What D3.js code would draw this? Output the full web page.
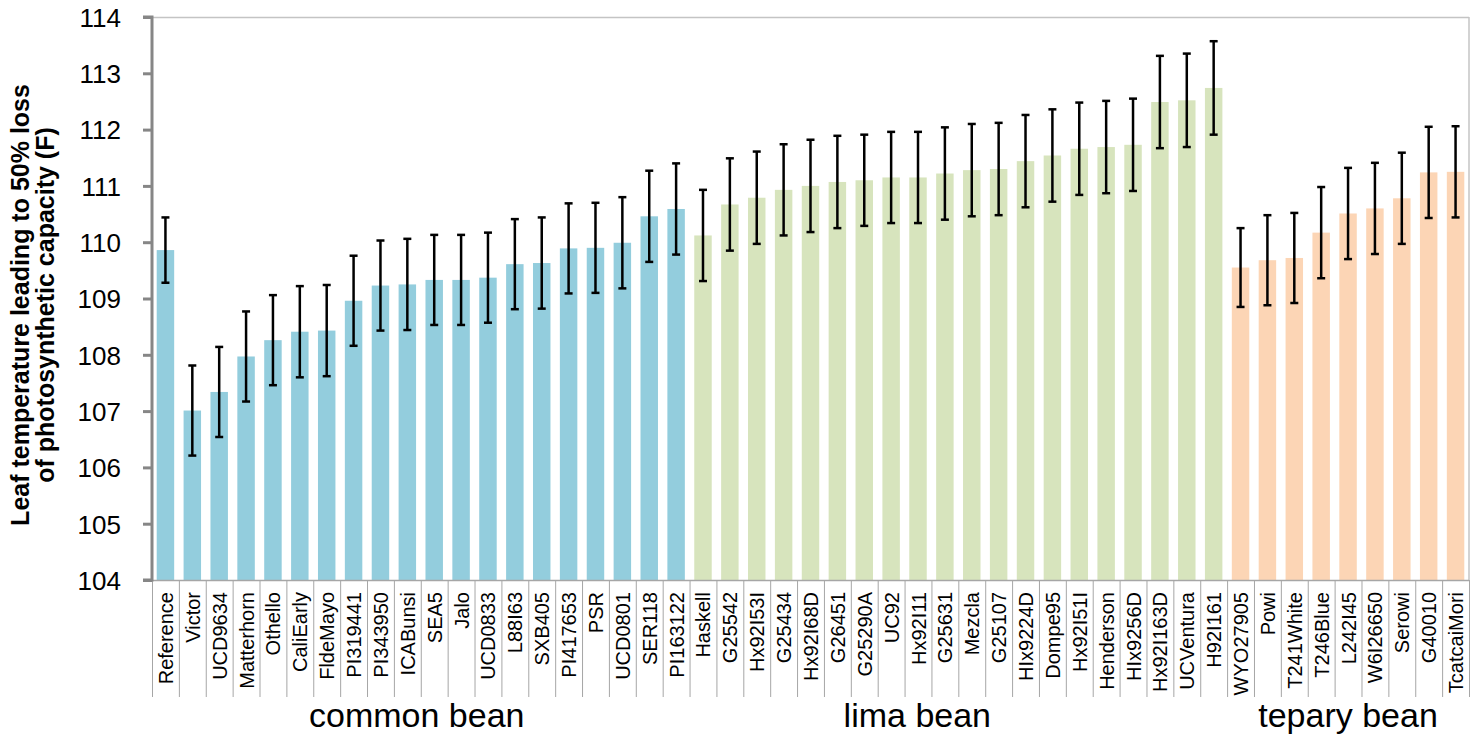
<!DOCTYPE html>
<html>
<head>
<meta charset="utf-8">
<script src="https://cdn.jsdelivr.net/npm/d3@7"></script>
<style>
  body { margin: 0; background: #fff; }
  svg { display: block; font-family: "Liberation Sans", Arial, sans-serif; }
</style>
</head>
<body>
<svg></svg>
<script>
const width = 1473
const height = 742

// cultivars, in plot order
const commonBean = ["Reference", "Victor", "UCD9634", "Matterhorn", "Othello", "CaliEarly", "FldeMayo",
  "PI319441", "PI343950", "ICABunsi", "SEA5", "Jalo", "UCD0833", "L88I63", "SXB405", "PI417653",
  "PSR", "UCD0801", "SER118", "PI163122"]
const limaBean = ["Haskell", "G25542", "Hx92I53I", "G25434", "Hx92I68D", "G26451", "G25290A", "UC92",
  "Hx92I11", "G25631", "Mezcla", "G25107", "HIx9224D", "Dompe95", "Hx92I51I", "Henderson",
  "HIx9256D", "Hx92I163D", "UCVentura", "H92I161"]
const teparyBean = ["WYO27905", "Powi", "T241White", "T246Blue", "L242I45", "W6I26650", "Serowi",
  "G40010", "TcatcaiMori"]

// mean leaf temperature (F) and error (+/-)
const commonValues = [109.86, 107.01, 107.34, 107.97, 108.26, 108.41, 108.43, 108.96, 109.23, 109.25,
  109.33, 109.33, 109.37, 109.61, 109.63, 109.89, 109.90, 109.99, 110.46, 110.59]
const commonErrors = [0.58, 0.8, 0.8, 0.8, 0.8, 0.81, 0.81, 0.8, 0.8, 0.81,
  0.8, 0.8, 0.8, 0.8, 0.81, 0.8, 0.8, 0.81, 0.81, 0.81]
const limaValues = [110.12, 110.67, 110.79, 110.93, 111.0, 111.07, 111.10, 111.15, 111.15, 111.22,
  111.28, 111.30, 111.44, 111.54, 111.66, 111.69, 111.73, 112.49, 112.52, 112.74]
const limaErrors = [0.81, 0.82, 0.82, 0.81, 0.82, 0.82, 0.81, 0.81, 0.81, 0.82,
  0.82, 0.82, 0.82, 0.82, 0.82, 0.82, 0.82, 0.82, 0.83, 0.83]
const teparyValues = [109.55, 109.68, 109.72, 110.17, 110.51, 110.60, 110.78, 111.24, 111.25]
const teparyErrors = [0.7, 0.8, 0.8, 0.81, 0.81, 0.81, 0.81, 0.81, 0.81]

const groupNames = ["common bean", "lima bean", "tepary bean"]
const groupColors = ["#93cddd", "#d7e4bd", "#fcd5b5"]
const yTicks = [104, 105, 106, 107, 108, 109, 110, 111, 112, 113, 114]

const groups = [
  { names: commonBean, values: commonValues, errors: commonErrors },
  { names: limaBean, values: limaValues, errors: limaErrors },
  { names: teparyBean, values: teparyValues, errors: teparyErrors }
]

var rows = []
groups.forEach(function (g, gi) {
  g.names.forEach(function (n, i) {
    rows.push({ name: n, value: g.values[i], err: g.errors[i], group: gi })
  })
})

const margin = { top: 17, right: 4, bottom: 162, left: 152 }
const plotW = width - margin.left - margin.right
const plotH = height - margin.top - margin.bottom

const svg = d3.select("svg")
  .attr("width", width)
  .attr("height", height)

const g = svg.append("g")
  .attr("transform", "translate(" + margin.left + "," + margin.top + ")")

const x = d3.scaleBand()
  .domain(rows.map(d => d.name))
  .range([0, plotW])
  .paddingInner(0.35)
  .paddingOuter(0.175)

const y = d3.scaleLinear()
  .domain([104, 114])
  .range([plotH, 0])

// frame on top and right
g.append("line")
  .attr("x1", 0).attr("x2", plotW).attr("y1", 0.5).attr("y2", 0.5)
  .attr("stroke", "#c4c4c4").attr("stroke-width", 1.5)
g.append("line")
  .attr("x1", plotW).attr("x2", plotW).attr("y1", 0).attr("y2", plotH)
  .attr("stroke", "#c4c4c4").attr("stroke-width", 1.5)

// bars
g.append("g")
  .selectAll("rect")
  .data(rows)
  .enter()
  .append("rect")
  .attr("x", d => x(d.name))
  .attr("width", x.bandwidth())
  .attr("y", d => y(d.value))
  .attr("height", d => plotH - y(d.value))
  .attr("fill", d => groupColors[d.group])

// error bars
const eb = g.append("g")
  .attr("stroke", "#000")
  .attr("stroke-width", 2.5)
  .selectAll("g")
  .data(rows)
  .enter()
  .append("g")
  .attr("transform", d => "translate(" + (x(d.name) + x.bandwidth() / 2) + ",0)")

eb.append("line")
  .attr("y1", d => y(d.value + d.err))
  .attr("y2", d => y(d.value - d.err))
eb.append("line")
  .attr("x1", -4).attr("x2", 4)
  .attr("y1", d => y(d.value + d.err))
  .attr("y2", d => y(d.value + d.err))
eb.append("line")
  .attr("x1", -4).attr("x2", 4)
  .attr("y1", d => y(d.value - d.err))
  .attr("y2", d => y(d.value - d.err))

// bottom axis line and category separators
g.append("line")
  .attr("x1", 0).attr("x2", plotW).attr("y1", plotH + 0.5).attr("y2", plotH + 0.5)
  .attr("stroke", "#a6a6a6").attr("stroke-width", 1.5)

const step = x.step()
g.append("g")
  .selectAll("line")
  .data(d3.range(rows.length + 1))
  .enter()
  .append("line")
  .attr("x1", d => d * step + 0.5)
  .attr("x2", d => d * step + 0.5)
  .attr("y1", plotH)
  .attr("y2", plotH + 117)
  .attr("stroke", "#a6a6a6")
  .attr("stroke-width", 1)

// category labels
g.append("g")
  .selectAll("text")
  .data(rows)
  .enter()
  .append("text")
  .attr("transform", d => "translate(" + (x(d.name) + x.bandwidth() / 2 + 7.5) + "," + (plotH + 12) + ") rotate(-90)")
  .attr("text-anchor", "end")
  .style("font-size", "20px")
  .style("fill", "#000")
  .text(d => d.name)

// group labels
var starts = [0, commonBean.length, commonBean.length + limaBean.length]
var shifts = [-4, -41, 0]
g.append("g")
  .selectAll("text")
  .data(groupNames)
  .enter()
  .append("text")
  .attr("x", (d, i) => {
    var n = groups[i].names.length
    return (starts[i] + n / 2) * step + shifts[i]
  })
  .attr("y", plotH + 147)
  .attr("text-anchor", "middle")
  .style("font-size", "34px")
  .style("fill", "#000")
  .text(d => d)

// y axis
const yAxis = g.append("g")
  .call(d3.axisLeft(y).tickValues(yTicks).tickSize(9).tickPadding(22).tickFormat(d3.format("d")))

yAxis.select(".domain")
  .attr("stroke", "#868686")
  .attr("stroke-width", 3)
  .attr("d", "M-9," + plotH + "H0V0H-9")
yAxis.selectAll(".tick line")
  .attr("stroke", "#868686")
  .attr("stroke-width", 3)
yAxis.selectAll(".tick text")
  .style("font-size", "26px")
  .style("font-family", "'Liberation Sans', Arial, sans-serif")
  .attr("dy", "0.36em")
  .style("fill", "#000")

// y axis title
const yTitle = svg.append("text")
  .attr("transform", "translate(0," + 305 + ") rotate(-90)")
  .attr("text-anchor", "middle")
  .style("font-size", "25px")
  .style("font-weight", "bold")
  .style("fill", "#000")
yTitle.append("tspan").attr("x", 0).attr("y", 29).text("Leaf temperature leading to 50% loss")
yTitle.append("tspan").attr("x", 0).attr("y", 54).text("of photosynthetic capacity (F)")
</script>
</body>
</html>
